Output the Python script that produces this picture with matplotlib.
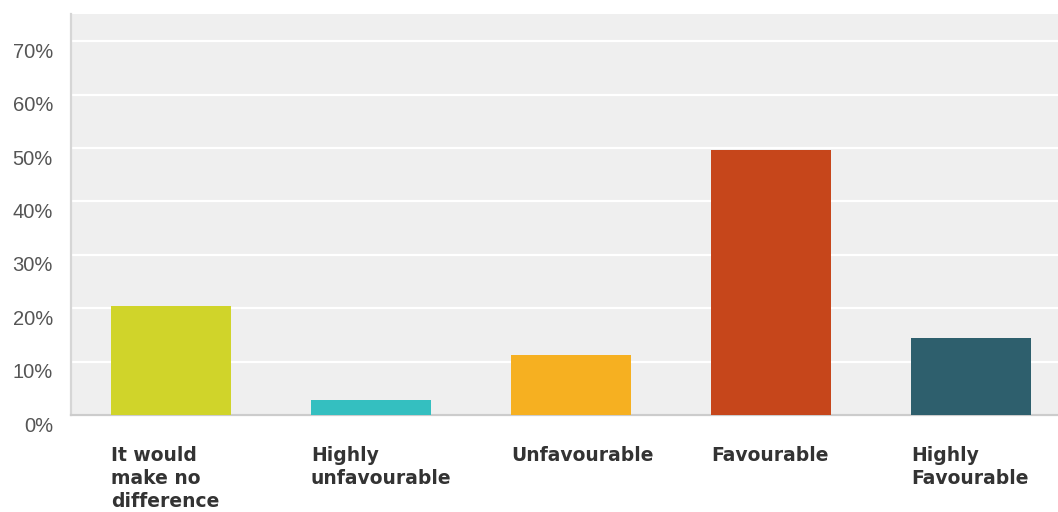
import matplotlib.pyplot as plt
import matplotlib.transforms as mtransforms
import numpy as np

categories = ["It would\nmake no\ndifference", "Highly\nunfavourable",
              "Unfavourable", "Favourable", "Highly\nFavourable"]
percentages = [20.4, 2.8, 11.3, 49.6, 14.4]
bar_colors = ["#d0d42a", "#34bfc0", "#f6b021", "#c6461b", "#2e5f6d"]
y_ticks = [0, 10, 20, 30, 40, 50, 60, 70]

fig = plt.figure(figsize=(10.58, 5.12), dpi=100)
ax = fig.add_axes([71 / 1058, 97 / 512, 987 / 1058, 401 / 512])
ax.set_facecolor("#efefef")

x = np.arange(len(categories))
bar_width = 0.6
ax.bar(x, percentages, width=bar_width, color=bar_colors, zorder=3)

ax.set_xlim(-0.5, -0.5 + 987 / 200)
ax.set_ylim(0, 75.1)

# white horizontal gridlines
ax.set_yticks(y_ticks)
ax.set_yticklabels([f"{t}%" for t in y_ticks], fontsize=14.5,
                   family="Liberation Sans", color="#555555")
ax.yaxis.grid(True, color="white", linewidth=1.6, zorder=1)
ax.tick_params(axis="y", length=0, pad=13)
offset = mtransforms.ScaledTranslation(0, -9 / 100, fig.dpi_scale_trans)
for lbl in ax.get_yticklabels():
    lbl.set_transform(lbl.get_transform() + offset)

# category labels left-aligned with each bar
ax.set_xticks(x - bar_width / 2)
ax.set_xticklabels(categories, ha="left", va="top", fontsize=13.5,
                   fontweight="bold", color="#333333", linespacing=1.28)
ax.tick_params(axis="x", length=0, pad=22)

for side in ["top", "right"]:
    ax.spines[side].set_visible(False)
ax.spines["left"].set_color("#d6d6d6")
ax.spines["left"].set_linewidth(1.6)
ax.spines["bottom"].set_color("#cccccc")
ax.spines["bottom"].set_linewidth(1.6)
ax.set_axisbelow(True)

fig.savefig("out.png", dpi=100)
